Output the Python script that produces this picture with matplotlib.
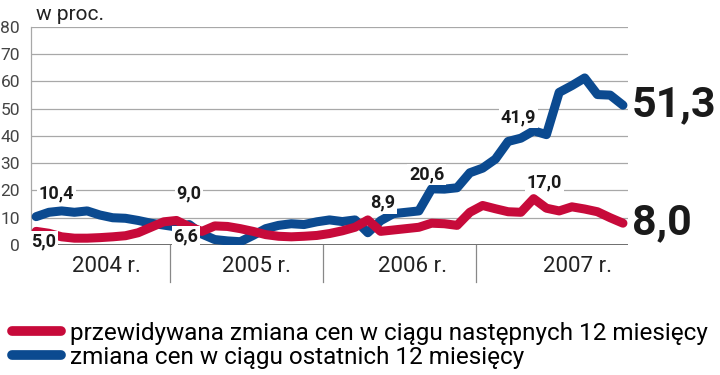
import matplotlib
matplotlib.use("Agg")
import matplotlib.pyplot as plt
from matplotlib.lines import Line2D
import matplotlib.transforms as mtransforms

plt.rcParams["font.family"] = ["Roboto", "DejaVu Sans"]

# monthly series, Feb 2004 .. Dec 2007 (month index 0 = Jan 2004)
months = list(range(1, 48))
expected = [5.0, 4.3, 3.0, 2.5, 2.5, 2.7, 3.0, 3.4,
            4.5, 6.5, 8.5, 9.0, 6.7, 5.0, 7.0, 6.8, 6.0, 5.0, 3.8, 3.2,
            3.0, 3.2, 3.5, 4.2,
            5.2, 6.5, 9.2, 5.0, 5.5, 6.0, 6.5, 8.0, 7.8, 7.2, 12.0, 14.5,
            13.3, 12.2, 12.0, 17.0, 13.5, 12.5, 14.0, 13.2, 12.2, 10.0, 8.0]
past = [10.4, 12.0, 12.5, 12.0, 12.5, 11.0, 10.0, 9.8,
        9.0, 8.0, 7.3, 6.6, 7.5, 4.0, 2.0, 1.5, 1.2, 3.5, 6.0, 7.2,
        7.8, 7.5, 8.5, 9.2,
        8.6, 9.2, 4.5, 8.9, 11.5, 12.0, 12.5, 20.6, 20.5, 21.0, 26.5, 28.2,
        31.5, 38.0, 39.2, 41.9, 40.5, 56.0, 58.5, 61.3, 55.2, 55.0, 51.3]

years = ["2004 r.", "2005 r.", "2006 r.", "2007 r."]
year_breaks = [12, 24, 36]
yticks = [0, 10, 20, 30, 40, 50, 60, 70, 80]
legend_labels = ["przewidywana zmiana cen w ciągu następnych 12 miesięcy",
                 "zmiana cen w ciągu ostatnich 12 miesięcy"]

RED = "#c70a3a"
BLUE = "#0b4a90"
GRID = "#a8a8a8"

fig = plt.figure(figsize=(7.2, 3.75), dpi=100)
ax = fig.add_axes([0.0431, 0.3467, 0.8292, 0.5813])

x = [m + 0.5 for m in months]
ax.plot(x, past, color=BLUE, lw=6.5, solid_capstyle="round", solid_joinstyle="round", zorder=3)
ax.plot(x, expected, color=RED, lw=6.5, solid_capstyle="round", solid_joinstyle="round", zorder=4)

ax.set_xlim(1.1, 47.9)
ax.set_ylim(0, 80)
ax.set_yticks(yticks)
ax.set_yticklabels([str(t) for t in yticks], fontsize=12.5, color="#444444")
ax.tick_params(axis="y", length=0, pad=8)
ax.set_xticks([])
for t in yticks[1:]:
    ax.axhline(t, color=GRID, lw=0.9, zorder=1)
for s in ["top", "right", "bottom"]:
    ax.spines[s].set_visible(False)
ax.spines["left"].set_color(GRID)
ax.spines["left"].set_linewidth(0.9)
ax.axhline(0, color="#555555", lw=1.2, zorder=2)

# year separators and labels below the axis
trans = mtransforms.blended_transform_factory(ax.transData, ax.transAxes)
for b in year_breaks:
    ax.plot([b, b], [0, -0.17], color="#888888", lw=0.9, transform=trans, clip_on=False)
for pos, yr in zip([7.0, 18.8, 31.0, 43.9], years):
    ax.text(pos, -0.10, yr, transform=trans, ha="center", va="center",
            fontsize=16, color="#222222")

fig.text(0.05, 1 - 14 / 375, "w proc.", fontsize=15, color="#222222", va="center")

# value callouts
def callout(series, i, txt, dx, dy, size=13):
    ax.annotate(txt, xy=(x[i], series[i]), xytext=(dx * 0.72, dy * 0.72),
                textcoords="offset points", ha="center", va="center",
                fontsize=size, fontweight="bold", color="#1a1a1a", zorder=6,
                bbox=dict(boxstyle="square,pad=0.1", fc="white", ec="none"))

callout(past, 0, "10,4", 20, 23)
callout(expected, 0, "5,0", 7.5, -10)
callout(expected, 11, "9,0", 12.6, 27)
callout(past, 11, "6,6", 9.6, -9.5)
callout(past, 27, "8,9", 2, 18)
callout(past, 31, "20,6", -5, 14.4)
callout(past, 39, "41,9", -15, 13.3)
callout(expected, 39, "17,0", 10.6, 16)

for series, txt in [(past, "51,3"), (expected, "8,0")]:
    ax.annotate(txt, xy=(x[-1], series[-1]), xytext=(6.5, 0),
                textcoords="offset points", ha="left", va="center",
                fontsize=31, fontweight="bold", color="#1a1a1a", annotation_clip=False)

handles = [Line2D([], [], color=RED, lw=7, solid_capstyle="round"),
           Line2D([], [], color=BLUE, lw=7, solid_capstyle="round")]
fig.legend(handles, legend_labels, loc="lower left", bbox_to_anchor=(0.0, -0.016),
           frameon=False, fontsize=17.5, handlelength=2.0, handletextpad=0.4,
           labelspacing=0.05, borderaxespad=0.2, borderpad=0.3)

fig.savefig("out.png", dpi=100)
